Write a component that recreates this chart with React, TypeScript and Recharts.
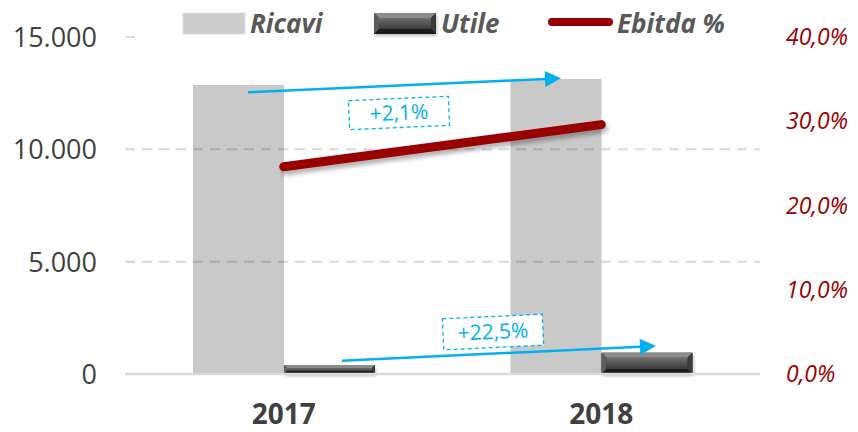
import { ComposedChart, Bar, Line, XAxis, YAxis, ReferenceLine } from 'recharts';

// data
const years = ['2017', '2018'];
const ricavi = [12860, 13130];
const utile = [400, 950];
const ebitdaPct = [24.6, 29.6];

const leftTicks = [0, 5000, 10000, 15000];
const leftTickLabels = ['0', '5.000', '10.000', '15.000'];
const rightTicks = [0, 10, 20, 30, 40];
const rightTickLabels = ['0,0%', '10,0%', '20,0%', '30,0%', '40,0%'];
const gridValues = [5000, 10000];

const growthLabels = ['+2,1%', '+22,5%'];
const legendNames = ['Ricavi', 'Utile', 'Ebitda %'];

const data = years.map((year, i) => ({ year, ricavi: ricavi[i], utile: utile[i], ebitda: ebitdaPct[i] }));

const FONT = '"Open Sans", sans-serif';
const BLUE = '#00b0f0';
const RED = '#990000';

const BevelBar = (p: any) => {
  const { x, y, width: w, height: h } = p;
  if (!h || h <= 0) return null;
  const b = Math.min(5, h / 3);
  return (
    <g filter="url(#barShadow)">
      <rect x={x} y={y} width={w} height={h} fill="#2a2a2a" />
      <polygon points={`${x},${y} ${x + w},${y} ${x + w - b},${y + b} ${x + b},${y + b}`} fill="#8c8c8c" />
      <polygon points={`${x},${y} ${x + b},${y + b} ${x + b},${y + h - b} ${x},${y + h}`} fill="#5c5c5c" />
      <polygon points={`${x + w},${y} ${x + w - b},${y + b} ${x + w - b},${y + h - b} ${x + w},${y + h}`} fill="#3a3a3a" />
      <polygon points={`${x},${y + h} ${x + b},${y + h - b} ${x + w - b},${y + h - b} ${x + w},${y + h}`} fill="#1e1e1e" />
      <rect x={x + b} y={y + b} width={Math.max(0, w - 2 * b)} height={Math.max(0, h - 2 * b)} fill="url(#utileGrad)" />
    </g>
  );
};

const LeftTick = (p: any) => {
  const i = leftTicks.indexOf(p.payload.value);
  return (
    <g>
      <line x1={p.x + 3} x2={p.x + 12} y1={p.y} y2={p.y} stroke="#d9d9d9" strokeWidth={2} />
      <text x={p.x - 26} y={p.y} dy={10} textAnchor="end" fontFamily={FONT} fontSize={27} fill="#404040">
        {leftTickLabels[i]}
      </text>
    </g>
  );
};

const RightTick = (p: any) => {
  const i = rightTicks.indexOf(p.payload.value);
  return (
    <text x={p.x + 24} y={p.y} dy={8} textAnchor="start" fontFamily={FONT} fontStyle="italic" fontSize={23} fill={RED}>
      {rightTickLabels[i]}
    </text>
  );
};

const XTick = (p: any) => (
  <text x={p.x} y={p.y + 48} textAnchor="middle" fontFamily={FONT} fontWeight="bold" fontSize={28} fill="#404040">
    {p.payload.value}
  </text>
);

const Arrow = ({ x1, y1, x2, y2 }: any) => {
  const a = Math.atan2(y2 - y1, x2 - x1);
  const len = 16, hw = 8;
  const bx = x2 - len * Math.cos(a), by = y2 - len * Math.sin(a);
  const px = -Math.sin(a) * hw, py = Math.cos(a) * hw;
  return (
    <g>
      <line x1={x1} y1={y1} x2={bx} y2={by} stroke={BLUE} strokeWidth={2.5} />
      <polygon points={`${x2},${y2} ${bx + px},${by + py} ${bx - px},${by - py}`} fill={BLUE} />
    </g>
  );
};

const Tag = ({ cx, cy, w, h, angle, label }: any) => (
  <g transform={`rotate(${angle} ${cx} ${cy})`}>
    <rect x={cx - w / 2} y={cy - h / 2} width={w} height={h} fill="#fff" stroke={BLUE} strokeWidth={1.3} strokeDasharray="4 3" />
    <text x={cx} y={cy} dy={7} textAnchor="middle" fontFamily={FONT} fontSize={21} fill={BLUE}>{label}</text>
  </g>
);

export default function App() {
  return (
    <div style={{ position: 'relative', margin: -8, width: 858, height: 432, background: '#fff', fontFamily: FONT }}>
      <svg width={0} height={0} style={{ position: 'absolute' }}>
        <defs>
          <linearGradient id="utileGrad" x1="0" y1="0" x2="0" y2="1">
            <stop offset="0%" stopColor="#6e6e6e" />
            <stop offset="100%" stopColor="#3c3c3c" />
          </linearGradient>
          <filter id="lineShadow" x="-10%" y="-50%" width="120%" height="200%">
            <feDropShadow dx="2" dy="4" stdDeviation="2" floodColor="#000" floodOpacity="0.3" />
          </filter>
          <filter id="barShadow" x="-10%" y="-50%" width="120%" height="200%">
            <feDropShadow dx="1" dy="2" stdDeviation="1.5" floodColor="#000" floodOpacity="0.25" />
          </filter>
        </defs>
      </svg>

      <ComposedChart width={858} height={432} data={data} margin={{ top: 37, right: 0, bottom: 0, left: 0 }} barGap={0}>
        <XAxis dataKey="year" height={58} tickSize={0} tickLine={false} axisLine={{ stroke: '#d9d9d9', strokeWidth: 2.5 }} tick={<XTick />} />
        <YAxis yAxisId="left" orientation="left" width={125} domain={[0, 15000]} ticks={leftTicks} tickSize={0} tickLine={false} axisLine={false} tick={<LeftTick />} />
        <YAxis yAxisId="right" orientation="right" width={98} domain={[0, 40]} ticks={rightTicks} tickSize={0} tickLine={false} axisLine={false} tick={<RightTick />} />
        <Bar yAxisId="left" dataKey="ricavi" fill="#c9c9c9" barSize={91} isAnimationActive={false} />
        <Bar yAxisId="left" dataKey="utile" fill="#3c3c3c" barSize={91} shape={<BevelBar />} isAnimationActive={false} />
        {gridValues.map((v) => (
          <ReferenceLine key={v} yAxisId="left" y={v} stroke="rgba(0,0,0,0.15)" strokeWidth={2} strokeDasharray="10 7" />
        ))}
        <Line yAxisId="right" type="linear" dataKey="ebitda" stroke={RED} strokeWidth={9} strokeLinecap="round" dot={false} activeDot={false} isAnimationActive={false} style={{ filter: 'url(#lineShadow)' }} />
      </ComposedChart>

      {/* annotations + legend */}
      <svg width={858} height={432} style={{ position: 'absolute', left: 0, top: 0, pointerEvents: 'none' }}>
        <Arrow x1={248} y1={92.3} x2={561} y2={78.3} />
        <Tag cx={399} cy={113} w={100} h={29} angle={-2.5} label={growthLabels[0]} />
        <Arrow x1={342} y1={360.7} x2={656} y2={346} />
        <Tag cx={493} cy={332} w={100} h={31} angle={-2.6} label={growthLabels[1]} />

        <rect x={183} y={13} width={62} height={21} fill="#cdcdcd" stroke="#dedede" strokeWidth={1} />
        <text x={250} y={33} fontFamily={FONT} fontWeight="bold" fontStyle="italic" fontSize={26} fill="#595959">{legendNames[0]}</text>
        <BevelBar x={374} y={13} width={62} height={21} />
        <text x={441} y={33} fontFamily={FONT} fontWeight="bold" fontStyle="italic" fontSize={26} fill="#595959">{legendNames[1]}</text>
        <line x1={552} x2={609} y1={22} y2={22} stroke={RED} strokeWidth={8} strokeLinecap="round" />
        <text x={617} y={33} fontFamily={FONT} fontWeight="bold" fontStyle="italic" fontSize={26} fill="#595959">{legendNames[2]}</text>
      </svg>
    </div>
  );
}
